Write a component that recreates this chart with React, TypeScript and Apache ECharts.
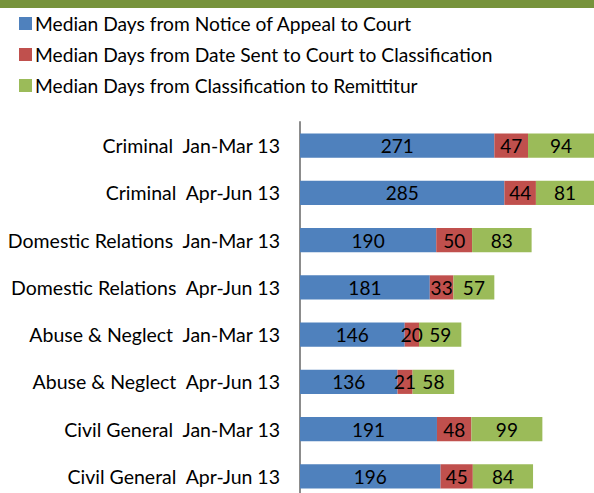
import React, { useEffect, useRef } from "react";
import * as echarts from "echarts";

const categories = [
  "Criminal  Jan-Mar 13",
  "Criminal  Apr-Jun 13",
  "Domestic Relations  Jan-Mar 13",
  "Domestic Relations  Apr-Jun 13",
  "Abuse & Neglect  Jan-Mar 13",
  "Abuse & Neglect  Apr-Jun 13",
  "Civil General  Jan-Mar 13",
  "Civil General  Apr-Jun 13",
];
const seriesNames = [
  "Median Days from Notice of Appeal to Court",
  "Median Days from Date Sent to Court to Classification",
  "Median Days from Classification to Remittitur",
];
const noticeToCourt = [271, 285, 190, 181, 146, 136, 191, 196];
const sentToClassification = [47, 44, 50, 33, 20, 21, 48, 45];
const classificationToRemittitur = [94, 81, 83, 57, 59, 58, 99, 84];
const colors = ["#4F81BD", "#C0504D", "#9BBB59"];

const FONT = "Lato, 'Open Sans', sans-serif";

export default function App() {
  const ref = useRef<HTMLDivElement>(null);
  useEffect(() => {
    if (!ref.current) return;
    const chart = echarts.init(ref.current, undefined, { renderer: "svg" });
    const datasets = [noticeToCourt, sentToClassification, classificationToRemittitur];
    chart.setOption({
      animation: false,
      textStyle: { fontFamily: FONT },
      graphic: [
        { type: "rect", left: 0, top: 0, shape: { width: 594, height: 8 }, style: { fill: "#77933C" } },
      ],
      legend: {
        orient: "vertical",
        left: 14,
        top: 9,
        itemWidth: 13,
        itemHeight: 13,
        itemGap: 12,
        icon: "rect",
        textStyle: { fontSize: 19.2, color: "#000", fontFamily: FONT, padding: [0, 0, 0, -2] },
        data: seriesNames,
      },
      grid: { left: 300, right: 0, top: 122, bottom: 0, containLabel: false },
      xAxis: { type: "value", min: 0, max: 410, show: false },
      yAxis: {
        type: "category",
        inverse: true,
        data: categories,
        axisLine: { show: true, lineStyle: { color: "#8C8C8C", width: 2 } },
        axisTick: { show: false },
        axisLabel: { fontSize: 19.5, color: "#000", margin: 20, fontFamily: FONT },
      },
      series: datasets.map((d, i) => ({
        name: seriesNames[i],
        type: "bar",
        stack: "total",
        barWidth: "51%",
        data: d,
        itemStyle: { color: colors[i] },
        label: {
          show: true,
          position: "inside",
          color: "#000",
          fontSize: 19,
          fontFamily: FONT,
        },
      })),
    });
    return () => chart.dispose();
  }, []);
  return (
    <div style={{ position: "fixed", left: 0, top: 0, width: 594, height: 493, overflow: "hidden", background: "#fff" }}>
      <div ref={ref} style={{ width: 594, height: 500 }} />
    </div>
  );
}
